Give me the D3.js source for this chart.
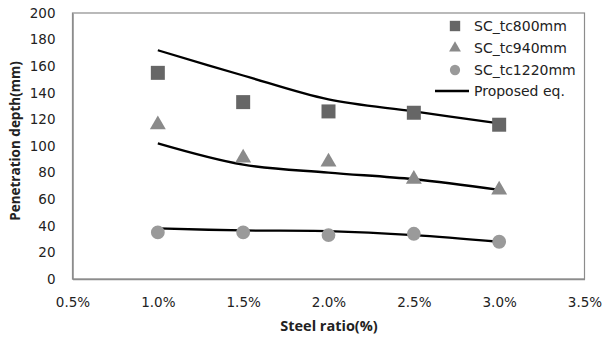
<!DOCTYPE html>
<html>
<head>
<meta charset="utf-8">
<script src="https://cdn.jsdelivr.net/npm/d3@7"></script>
<style>
  html, body { margin: 0; padding: 0; background: #fff; }
  svg text { font-family: "DejaVu Sans", sans-serif; fill: #222; }
  svg text.title { font-family: "Open Sans", "DejaVu Sans", sans-serif; }
</style>
</head>
<body>
<svg id="chart" width="602" height="338"></svg>
<script>
// Steel ratio (%) on the x axis
const steelRatio = [1.0, 1.5, 2.0, 2.5, 3.0];

// Measured penetration depth (mm) for each wall thickness
const tc800 = [155, 133, 126, 125, 116];
const tc940 = [116, 91, 88, 75, 67];
const tc1220 = [35, 35, 33, 34, 28];

// Proposed equation curves (mm)
const eq800 = [172, 153, 135, 126, 117];
const eq940 = [102, 86, 80, 75, 67];
const eq1220 = [38, 36.5, 36, 33, 28];

const xTicks = [0.5, 1.0, 1.5, 2.0, 2.5, 3.0, 3.5];
const yTicks = [0, 20, 40, 60, 80, 100, 120, 140, 160, 180, 200];

const seriesNames = ["SC_tc800mm", "SC_tc940mm", "SC_tc1220mm", "Proposed eq."];

const svg = d3.select("#chart");
const margin = { left: 72.5, right: 17.5, top: 13, bottom: 59 };
const W = 602, H = 338;

const x = d3.scaleLinear().domain([0.5, 3.5]).range([margin.left, W - margin.right]);
const y = d3.scaleLinear().domain([0, 200]).range([H - margin.bottom, margin.top]);

// plot border
svg.append("rect")
  .attr("x", x(0.5)).attr("y", y(200))
  .attr("width", x(3.5) - x(0.5)).attr("height", y(0) - y(200))
  .attr("fill", "none").attr("stroke", "#8c8c8c").attr("stroke-width", 1.2);

// axes
const yAxis = svg.append("g")
  .attr("transform", `translate(${x(0.5)},0)`)
  .call(d3.axisLeft(y).tickValues(yTicks).tickSize(0).tickPadding(17));
yAxis.select(".domain").attr("stroke", "#8c8c8c").attr("stroke-width", 1.5);
yAxis.selectAll("text").attr("font-size", 13.5).attr("fill", "#222")
  .attr("font-family", "DejaVu Sans");

const xAxis = svg.append("g")
  .attr("transform", `translate(0,${y(0)})`)
  .call(d3.axisBottom(x).tickValues(xTicks).tickSize(0).tickPadding(18)
    .tickFormat(d => d.toFixed(1) + "%"));
xAxis.select(".domain").attr("stroke", "#8c8c8c").attr("stroke-width", 1.5);
xAxis.selectAll("text").attr("font-size", 13.5).attr("fill", "#222")
  .attr("font-family", "DejaVu Sans");

// axis titles
svg.append("text").attr("class", "title")
  .attr("x", 329).attr("y", 331)
  .attr("text-anchor", "middle").attr("font-size", 14.5).attr("font-weight", "bold")
  .text("Steel ratio(%)");
svg.append("text").attr("class", "title")
  .attr("transform", `translate(20,141) rotate(-90)`)
  .attr("text-anchor", "middle").attr("font-size", 13.5).attr("font-weight", "bold")
  .text("Penetration depth(mm)");

// proposed equation curves
const line = d3.line()
  .x((d, i) => x(steelRatio[i]))
  .y(d => y(d))
  .curve(d3.curveCatmullRom.alpha(0.5));
[eq800, eq940, eq1220].forEach(s => {
  svg.append("path").attr("d", line(s))
    .attr("fill", "none").attr("stroke", "#000").attr("stroke-width", 2.3);
});

// markers
const markerStyles = [
  { data: tc800, type: d3.symbolSquare, size: 196, color: "#666666" },
  { data: tc940, type: d3.symbolTriangle, size: 110, color: "#8a8a8a" },
  { data: tc1220, type: d3.symbolCircle, size: 150, color: "#9a9a9a" }
];
markerStyles.forEach(m => {
  svg.append("g").selectAll("path")
    .data(m.data)
    .join("path")
    .attr("d", d3.symbol().type(m.type).size(m.size))
    .attr("transform", (d, i) => `translate(${x(steelRatio[i])},${y(d)})`)
    .attr("fill", m.color);
});

// legend
const legend = svg.append("g");
const legendRows = [26, 48, 70, 91];
markerStyles.forEach((m, i) => {
  legend.append("path")
    .attr("d", d3.symbol().type(m.type).size(m.size * 0.55))
    .attr("transform", `translate(455,${legendRows[i]})`)
    .attr("fill", m.color);
});
legend.append("line")
  .attr("x1", 435).attr("x2", 469)
  .attr("y1", legendRows[3]).attr("y2", legendRows[3])
  .attr("stroke", "#000").attr("stroke-width", 2.3);
seriesNames.forEach((n, i) => {
  legend.append("text")
    .attr("x", 474).attr("y", legendRows[i]).attr("dy", "0.35em")
    .attr("font-size", 14)
    .text(n);
});
</script>
</body>
</html>
